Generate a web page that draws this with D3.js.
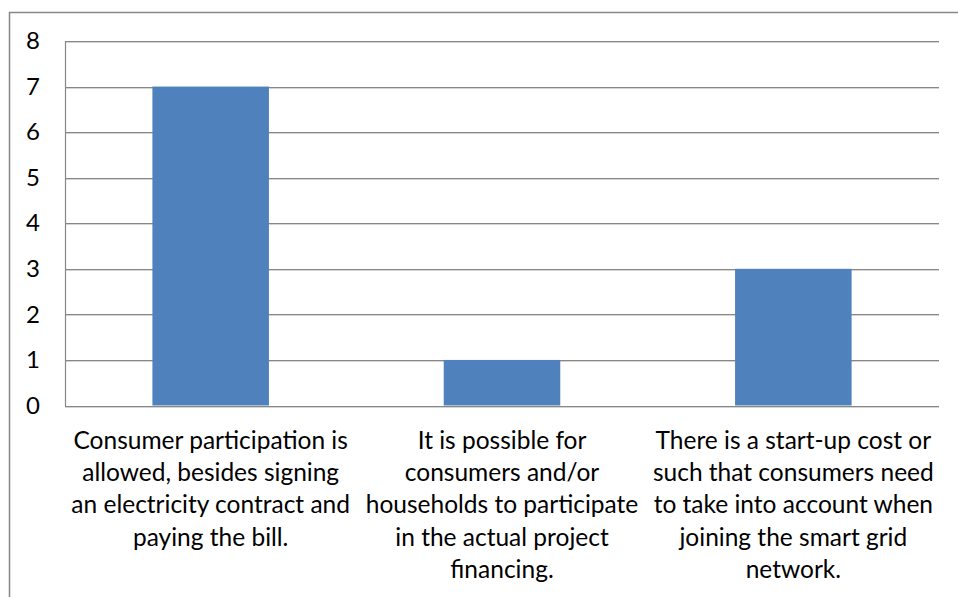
<!DOCTYPE html>
<html>
<head>
<meta charset="utf-8">
<script src="https://cdn.jsdelivr.net/npm/d3@7"></script>
<style>
  html, body { margin: 0; padding: 0; background: #fff; }
  svg { display: block; }
  text { font-family: Lato, "Open Sans", sans-serif; fill: #000; }
</style>
</head>
<body>
<svg id="chart" width="958" height="597"></svg>
<script>
// Categories (each label pre-wrapped into its lines)
const categories = [
  ["Consumer participation is", "allowed, besides signing", "an electricity contract and", "paying the bill."],
  ["It is possible for", "consumers and/or", "households to participate", "in the actual project", "financing."],
  ["There is a start-up cost or", "such that consumers need", "to take into account when", "joining the smart grid", "network."]
];
const values = [7, 1, 3];
const yTicks = [0, 1, 2, 3, 4, 5, 6, 7, 8];

const svg = d3.select("#chart");
const margin = { left: 65, right: 19, top: 41, bottom: 191.5 };
const W = 958, H = 597;
const plotW = W - margin.left - margin.right;
const plotH = H - margin.top - margin.bottom;

// Outer chart frame (only its left and top edges fall inside the view)
svg.append("rect")
  .attr("x", 9.5).attr("y", 12.5)
  .attr("width", 1200).attr("height", 1200)
  .attr("fill", "none").attr("stroke", "#878787").attr("stroke-width", 1.5);

const g = svg.append("g").attr("transform", `translate(${margin.left},${margin.top})`);

const x = d3.scaleBand()
  .domain(d3.range(categories.length))
  .range([0, plotW])
  .paddingInner(0.6)
  .paddingOuter(0.3);

const y = d3.scaleLinear().domain([0, 8]).range([plotH, 0]);

// Horizontal gridlines with a faint shadow beneath each
g.append("g").selectAll("line.shadow")
  .data(yTicks)
  .join("line")
  .attr("x1", 0).attr("x2", plotW)
  .attr("y1", d => Math.round(y(d)) + 1.5).attr("y2", d => Math.round(y(d)) + 1.5)
  .attr("stroke", "#d4d4d4").attr("stroke-width", 1);
g.append("g").selectAll("line.grid")
  .data(yTicks)
  .join("line")
  .attr("x1", 0).attr("x2", plotW)
  .attr("y1", d => Math.round(y(d)) + 0.5).attr("y2", d => Math.round(y(d)) + 0.5)
  .attr("stroke", "#878787").attr("stroke-width", 1.2);

// Vertical axis line
g.append("line")
  .attr("x1", 0.5).attr("x2", 0.5)
  .attr("y1", 0).attr("y2", plotH + 0.5)
  .attr("stroke", "#878787").attr("stroke-width", 1.2);

// Bars
g.append("g").selectAll("rect")
  .data(values)
  .join("rect")
  .attr("x", (d, i) => x(i))
  .attr("y", d => y(d))
  .attr("width", x.bandwidth())
  .attr("height", d => y(0) - y(d))
  .attr("fill", "#4f81bd");

// Y tick labels
const yAxis = d3.axisLeft(y).tickValues(yTicks).tickFormat(d3.format("d")).tickSize(0).tickPadding(25);
const ya = g.append("g").call(yAxis);
ya.select(".domain").remove();
ya.selectAll("text")
  .attr("font-size", 24)
  .attr("font-family", "Lato, 'Open Sans', sans-serif")
  .attr("fill", "#000");

// Category labels, wrapped over several lines
const lineH = 32.4;
const labels = g.append("g").selectAll("text")
  .data(categories)
  .join("text")
  .attr("font-size", 24.5)
  .attr("text-anchor", "middle")
  .attr("transform", (d, i) => `translate(${x(i) + x.bandwidth() / 2},${plotH + 43})`);
labels.selectAll("tspan")
  .data(d => d)
  .join("tspan")
  .attr("x", 0)
  .attr("y", (d, i) => i * lineH)
  .text(d => d);
</script>
</body>
</html>
